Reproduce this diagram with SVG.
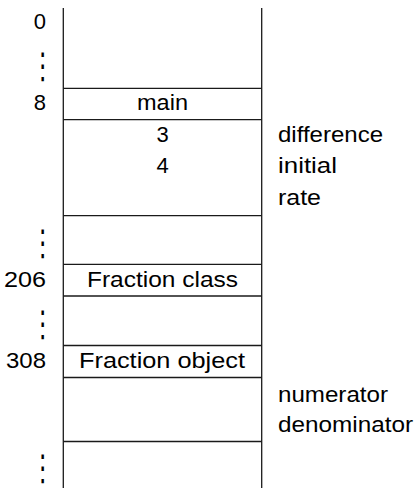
<svg xmlns="http://www.w3.org/2000/svg" width="418" height="488" viewBox="0 0 418 488">
<style>
text{font-family:"Liberation Sans",Arial,sans-serif;font-size:22px;fill:#000}
.c{text-anchor:middle}
.r{text-anchor:end}
.d{text-anchor:middle;font-family:"DejaVu Sans",sans-serif;font-size:36px}
line{stroke:#1a1a1a;stroke-width:1.3}
</style>
<rect width="418" height="488" fill="#fff"/>
<g id="memory">
<line x1="63.3" y1="8" x2="63.3" y2="488"/>
<line x1="261.7" y1="8" x2="261.7" y2="488"/>
<line x1="63.3" y1="88.3" x2="261.7" y2="88.3"/>
<line x1="63.3" y1="119.7" x2="261.7" y2="119.7"/>
<line x1="63.3" y1="215.7" x2="261.7" y2="215.7"/>
<line x1="63.3" y1="264.3" x2="261.7" y2="264.3"/>
<line x1="63.3" y1="296" x2="261.7" y2="296"/>
<line x1="63.3" y1="345.5" x2="261.7" y2="345.5"/>
<line x1="63.3" y1="377.5" x2="261.7" y2="377.5"/>
<line x1="63.3" y1="441.5" x2="261.7" y2="441.5"/>
</g>
<g id="addresses">
<text class="r" x="46" y="29">0</text>
<text class="d" transform="translate(42.7 77.5) scale(0.65 1)">⋮</text>
<text class="r" x="46" y="110">8</text>
<text class="d" transform="translate(42.7 254.5) scale(0.65 1)">⋮</text>
<text class="r" x="46" y="286.7" textLength="42" lengthAdjust="spacingAndGlyphs">206</text>
<text class="d" transform="translate(42.7 335.5) scale(0.65 1)">⋮</text>
<text class="r" x="46" y="368" textLength="40" lengthAdjust="spacingAndGlyphs">308</text>
<text class="d" transform="translate(42.7 479.5) scale(0.65 1)">⋮</text>
</g>
<g id="main">
<text class="c" x="162.5" y="110" textLength="51" lengthAdjust="spacingAndGlyphs">main</text>
<text class="c" x="162.5" y="142">3</text>
<text class="c" x="162.5" y="173">4</text>
</g>
<g id="main-vars">
<text x="278" y="142" textLength="105" lengthAdjust="spacingAndGlyphs">difference</text>
<text x="278" y="173" textLength="59" lengthAdjust="spacingAndGlyphs">initial</text>
<text x="278" y="205" textLength="43" lengthAdjust="spacingAndGlyphs">rate</text>
</g>
<g id="fraction-class">
<text class="c" x="162.5" y="286.7" textLength="151" lengthAdjust="spacingAndGlyphs">Fraction class</text>
</g>
<g id="fraction-object">
<text class="c" x="162" y="368" textLength="166" lengthAdjust="spacingAndGlyphs">Fraction object</text>
<text x="278" y="401.5" textLength="110" lengthAdjust="spacingAndGlyphs">numerator</text>
<text x="278" y="432" textLength="135" lengthAdjust="spacingAndGlyphs">denominator</text>
</g>
</svg>
